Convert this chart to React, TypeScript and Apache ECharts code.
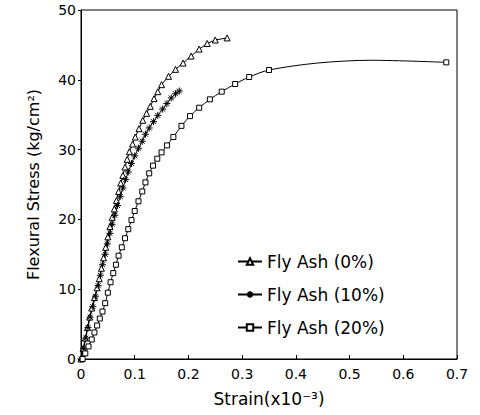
import React, { useEffect, useRef } from "react";
import * as echarts from "echarts";

const xTicks = [0, 0.1, 0.2, 0.3, 0.4, 0.5, 0.6, 0.7];
const yTicks = [0, 10, 20, 30, 40, 50];

const fa0X = [0, 0.004, 0.008, 0.012, 0.016, 0.02, 0.025, 0.03, 0.034, 0.038, 0.042, 0.046, 0.05, 0.054, 0.058, 0.062, 0.066, 0.07, 0.074, 0.078, 0.082, 0.086, 0.09, 0.096, 0.101, 0.108, 0.115, 0.122, 0.129, 0.136, 0.143, 0.15, 0.163, 0.176, 0.19, 0.205, 0.22, 0.235, 0.25, 0.272];
const fa0Y = [0, 1.5, 3, 4.5, 6, 7.3, 8.8, 10.2, 11.5, 13, 14.5, 16, 17.5, 19, 20.3, 21.5, 22.7, 24, 25.2, 26.3, 27.5, 28.6, 29.7, 30.8, 31.8, 33.0, 34.2, 35.2, 36.2, 37.3, 38.3, 39.3, 40.5, 41.5, 42.4, 43.4, 44.4, 45.2, 45.7, 46.0];

const fa10X = [0, 0.005, 0.009, 0.013, 0.017, 0.022, 0.027, 0.032, 0.036, 0.04, 0.045, 0.049, 0.054, 0.058, 0.063, 0.068, 0.073, 0.078, 0.083, 0.088, 0.094, 0.1, 0.107, 0.114, 0.12, 0.127, 0.135, 0.143, 0.152, 0.16, 0.168, 0.176, 0.183];
const fa10Y = [0, 1.5, 3, 4.5, 6, 7.5, 9, 10.5, 12, 13.5, 15, 16.5, 18, 19.3, 20.6, 22, 23.3, 24.5, 25.7, 26.8, 28, 29.1, 30.2, 31.2, 32.2, 33.1, 34.0, 34.9, 35.8, 36.6, 37.4, 38.0, 38.4];

const fa20X = [0.003, 0.008, 0.014, 0.02, 0.025, 0.03, 0.035, 0.04, 0.045, 0.05, 0.055, 0.06, 0.065, 0.07, 0.076, 0.082, 0.088, 0.094, 0.1, 0.107, 0.114, 0.12, 0.127, 0.134, 0.142, 0.15, 0.16, 0.172, 0.187, 0.203, 0.22, 0.24, 0.262, 0.287, 0.313, 0.35, 0.44, 0.54, 0.68];
const fa20Y = [0, 0.8, 1.8, 2.8, 3.8, 4.8, 5.8, 6.8, 8.0, 9.5, 11, 12.3, 13.5, 14.8, 16, 17.3, 18.6, 19.9, 21.2, 22.6, 24.0, 25.3, 26.6, 27.7, 28.7, 29.6, 30.6, 31.8, 33.4, 34.8, 36.0, 37.2, 38.3, 39.4, 40.4, 41.4, 42.4, 42.8, 42.5];

const names = ["Fly Ash (0%)", "Fly Ash (10%)", "Fly Ash (20%)"];

const FONT = "DejaVu Sans";
const asterisk = "path://M5,0L5,10M0,5L10,5M1.5,1.5L8.5,8.5M1.5,8.5L8.5,1.5";

function pairs(xs: number[], ys: number[], hideFrom?: number, hideTo?: number) {
  return xs.map((x, i) => {
    if (hideFrom !== undefined && hideTo !== undefined && x > hideFrom && x < hideTo) {
      return { value: [x, ys[i]], symbol: "none" };
    }
    return { value: [x, ys[i]] };
  });
}

export default function App() {
  const ref = useRef<HTMLDivElement>(null);
  useEffect(() => {
    if (!ref.current) return;
    const chart = echarts.init(ref.current, undefined, { renderer: "svg" });
    chart.setOption({
      animation: false,
      backgroundColor: "#fff",
      grid: {
        left: 81,
        top: 10,
        right: 23,
        bottom: 56,
        show: true,
        borderColor: "#000",
        borderWidth: 1,
      },
      xAxis: {
        type: "value",
        min: 0,
        max: 0.7,
        interval: 0.1,
        name: "Strain(x10⁻³)",
        nameLocation: "middle",
        nameGap: 31,
        nameTextStyle: { fontFamily: FONT, fontSize: 17, color: "#000" },
        axisLine: { show: true, lineStyle: { color: "#000", width: 1 } },
        axisTick: { show: true, inside: true, length: 4, lineStyle: { color: "#000" } },
        splitLine: { show: false },
        axisLabel: {
          fontFamily: FONT,
          fontSize: 14,
          color: "#000",
          margin: 8,
          formatter: (v: number) => {
            const idx = xTicks.findIndex((t) => Math.abs(t - v) < 1e-6);
            return idx >= 0 ? String(xTicks[idx]) : "";
          },
        },
      },
      yAxis: {
        type: "value",
        min: 0,
        max: 50,
        interval: 10,
        name: "Flexural Stress (kg/cm²)",
        nameLocation: "middle",
        nameGap: 40,
        nameTextStyle: { fontFamily: FONT, fontSize: 16, color: "#000" },
        axisLine: { show: true, lineStyle: { color: "#000", width: 1 } },
        axisTick: { show: true, inside: false, length: 3, lineStyle: { color: "#000" } },
        splitLine: { show: false },
        axisLabel: {
          fontFamily: FONT,
          fontSize: 14,
          color: "#000",
          margin: 5,
          formatter: (v: number) => (yTicks.includes(v) ? String(v) : ""),
        },
      },
      legend: {
        orient: "vertical",
        left: 232,
        top: 248,
        itemGap: 16,
        itemWidth: 24,
        itemHeight: 8,
        data: names,
        textStyle: { fontFamily: FONT, fontSize: 17, color: "#000" },
      },
      series: [
        {
          name: names[0],
          type: "line",
          data: pairs(fa0X, fa0Y),
          symbol: "triangle",
          symbolSize: 6,
          lineStyle: { color: "#000", width: 1 },
          itemStyle: { color: "#fff", borderColor: "#000", borderWidth: 1 },
        },
        {
          name: names[1],
          type: "line",
          data: pairs(fa10X, fa10Y),
          symbol: asterisk,
          symbolSize: 7,
          lineStyle: { color: "#000", width: 1 },
          itemStyle: { color: "#000", borderColor: "#000", borderWidth: 1 },
        },
        {
          name: names[2],
          type: "line",
          data: pairs(fa20X, fa20Y, 0.36, 0.67),
          smooth: 0.3,
          symbol: "rect",
          symbolSize: 5,
          lineStyle: { color: "#000", width: 1 },
          itemStyle: { color: "#fff", borderColor: "#000", borderWidth: 1 },
        },
      ],
    });
    return () => chart.dispose();
  }, []);
  return (
    <div
      ref={ref}
      style={{ position: "absolute", left: 0, top: 0, width: 480, height: 415 }}
    />
  );
}
